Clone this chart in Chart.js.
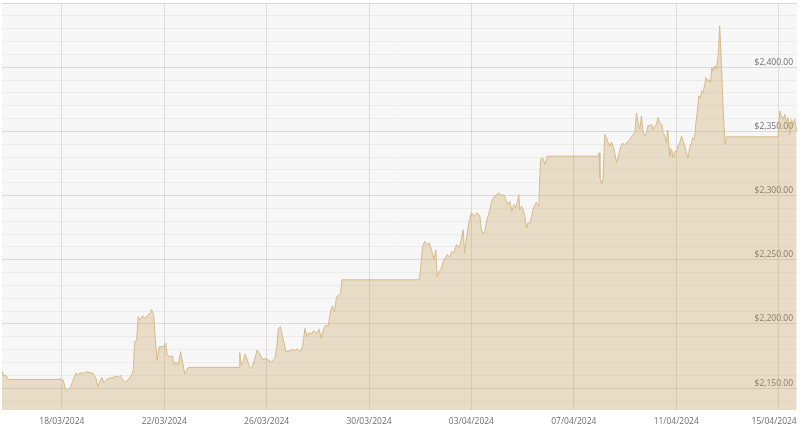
<!DOCTYPE html>
<html>
<head>
<meta charset="utf-8">
<script src="https://cdn.jsdelivr.net/npm/chart.js@4.4.1/dist/chart.umd.min.js"></script>
<style>
  html, body { margin: 0; padding: 0; background: #fff; }
  #wrap { width: 800px; height: 428px; }
</style>
</head>
<body>
<div id="wrap"><canvas id="goldChart"></canvas></div>
<script>
// days since 18/03/2024 00:00
const dayOffsets = [
  -2.34, -2.27, -2.20, -2.10, -2.05, -0.11, -0.08, -0.02, 0.05, 0.16,
  0.25, 0.34, 0.44, 0.55, 0.60, 0.70, 0.83, 0.99, 1.12, 1.22,
  1.33, 1.41, 1.48, 1.56, 1.64, 1.75, 1.88, 2.00, 2.11, 2.21,
  2.29, 2.37, 2.47, 2.58, 2.66, 2.72, 2.79, 2.84, 2.92, 2.98,
  3.05, 3.15, 3.25, 3.36, 3.44, 3.50, 3.59, 3.64, 3.72, 3.80,
  3.96, 4.06, 4.11, 4.22, 4.32, 4.38, 4.45, 4.54, 4.64, 4.71,
  4.80, 4.93, 6.93, 6.95, 7.00, 7.08, 7.16, 7.24, 7.32, 7.41,
  7.50, 7.63, 7.73, 7.84, 7.97, 8.07, 8.19, 8.32, 8.39, 8.46,
  8.54, 8.62, 8.70, 8.75, 8.91, 9.01, 9.10, 9.19, 9.30, 9.40,
  9.50, 9.58, 9.66, 9.75, 9.84, 9.95, 10.05, 10.13, 10.21, 10.31,
  10.40, 10.50, 10.57, 10.65, 10.73, 10.79, 10.89, 10.94, 13.96, 14.01,
  14.09, 14.18, 14.25, 14.35, 14.44, 14.53, 14.61, 14.66, 14.74, 14.83,
  14.90, 14.97, 15.05, 15.16, 15.23, 15.31, 15.42, 15.50, 15.57, 15.68,
  15.73, 15.81, 15.91, 16.00, 16.09, 16.20, 16.26, 16.33, 16.39, 16.46,
  16.52, 16.61, 16.72, 16.79, 16.88, 16.98, 17.08, 17.18, 17.27, 17.34,
  17.43, 17.50, 17.58, 17.66, 17.73, 17.79, 17.85, 17.89, 17.96, 18.02,
  18.09, 18.15, 18.21, 18.28, 18.35, 18.41, 18.48, 18.54, 18.61, 18.64,
  18.70, 18.78, 18.87, 18.96, 20.95, 20.99, 21.02, 21.09, 21.14, 21.21,
  21.28, 21.34, 21.41, 21.47, 21.54, 21.60, 21.67, 21.73, 21.80, 21.88,
  21.99, 22.08, 22.19, 22.29, 22.38, 22.45, 22.51, 22.58, 22.64, 22.71,
  22.77, 22.84, 22.90, 22.97, 23.03, 23.10, 23.16, 23.23, 23.29, 23.36,
  23.44, 23.49, 23.55, 23.62, 23.67, 23.72, 23.75, 23.82, 23.88, 23.95,
  24.01, 24.07, 24.14, 24.21, 24.27, 24.34, 24.40, 24.46, 24.53, 24.60,
  24.64, 24.69, 24.73, 24.77, 24.82, 24.89, 24.95, 25.00, 25.05, 25.12,
  25.16, 25.21, 25.26, 25.34, 25.39, 25.44, 25.51, 25.57, 25.64, 25.70,
  25.77, 25.83, 25.89, 25.91, 25.96, 27.98, 28.05, 28.11, 28.18, 28.24,
  28.31, 28.37, 28.44, 28.50, 28.57, 28.63, 28.70
];

const goldPrice = [
  2163.3, 2159.4, 2160.2, 2157.0, 2156.8, 2156.8, 2157.8, 2156.6, 2156.3, 2147.7,
  2149.0, 2151.0, 2156.3, 2162.0, 2159.9, 2162.0, 2161.5, 2162.7, 2162.0, 2161.5,
  2157.8, 2151.0, 2155.5, 2158.4, 2154.1, 2156.8, 2157.8, 2158.4, 2159.4, 2158.4,
  2159.9, 2156.3, 2154.7, 2156.3, 2158.4, 2160.2, 2164.1, 2186.2, 2187.5, 2205.7,
  2203.1, 2206.3, 2204.5, 2207.0, 2207.8, 2211.5, 2207.0, 2190.1, 2171.9, 2182.3,
  2182.3, 2184.9, 2175.8, 2174.5, 2175.0, 2168.0, 2170.5, 2168.0, 2178.4, 2170.5,
  2160.9, 2166.2, 2166.2, 2177.6, 2168.0, 2170.5, 2176.6, 2171.9, 2167.2, 2165.4,
  2170.5, 2179.7, 2176.6, 2172.4, 2173.2, 2171.9, 2170.5, 2173.2, 2181.0, 2196.6,
  2197.9, 2190.1, 2183.6, 2178.4, 2179.1, 2180.2, 2179.1, 2180.7, 2178.4, 2182.3,
  2196.6, 2190.1, 2193.2, 2192.2, 2194.8, 2192.7, 2195.9, 2188.8, 2195.3, 2199.2,
  2197.9, 2210.2, 2214.1, 2209.4, 2221.1, 2221.9, 2224.2, 2234.4, 2234.4, 2242.2,
  2260.4, 2264.3, 2261.7, 2263.0, 2257.8, 2250.0, 2257.8, 2237.0, 2240.9, 2243.5,
  2248.7, 2251.3, 2253.9, 2252.1, 2256.5, 2255.2, 2261.7, 2259.1, 2263.0, 2273.4,
  2255.2, 2267.0, 2279.9, 2287.0, 2283.6, 2286.5, 2285.9, 2283.8, 2273.4, 2270.3,
  2272.1, 2281.3, 2289.1, 2295.5, 2299.0, 2300.8, 2302.1, 2300.0, 2300.8, 2296.9,
  2293.0, 2295.5, 2287.7, 2293.0, 2290.4, 2294.8, 2300.8, 2289.1, 2291.6, 2289.1,
  2283.8, 2274.8, 2278.7, 2278.1, 2283.8, 2289.1, 2293.0, 2294.8, 2291.6, 2296.9,
  2328.1, 2329.5, 2324.2, 2330.7, 2330.7, 2333.3, 2313.8, 2309.4, 2312.5, 2347.7,
  2345.1, 2341.2, 2338.5, 2341.6, 2338.5, 2333.3, 2325.5, 2329.4, 2335.9, 2340.6,
  2339.8, 2341.2, 2343.8, 2346.9, 2349.0, 2364.1, 2356.8, 2351.6, 2362.0, 2349.0,
  2346.3, 2349.0, 2354.7, 2354.1, 2355.5, 2351.6, 2354.1, 2355.5, 2360.7, 2356.8,
  2355.5, 2349.0, 2346.9, 2341.2, 2351.0, 2337.3, 2330.7, 2335.9, 2329.4, 2334.6,
  2333.8, 2338.5, 2341.2, 2346.3, 2342.4, 2338.5, 2333.3, 2329.4, 2337.3, 2341.2,
  2345.1, 2343.8, 2347.7, 2356.8, 2364.6, 2377.6, 2376.3, 2381.5, 2380.2, 2386.7,
  2392.0, 2389.3, 2390.6, 2388.0, 2399.8, 2397.1, 2401.0, 2398.4, 2408.8, 2432.3,
  2401.0, 2369.8, 2346.3, 2339.8, 2345.8, 2345.8, 2365.9, 2362.0, 2359.4, 2363.3,
  2356.8, 2360.7, 2347.7, 2359.4, 2355.5, 2359.4, 2350.2
];

const tickDays = [0, 4, 8, 12, 16, 20, 24, 28];
const tickLabels = ['18/03/2024', '22/03/2024', '26/03/2024', '30/03/2024',
                    '03/04/2024', '07/04/2024', '11/04/2024', '15/04/2024'];

const dayMin = -2.34;
const dayMax = 28.72;
const priceMin = 2133;
const priceMax = 2450;

const points = dayOffsets.map((d, i) => ({ x: d, y: goldPrice[i] }));

const plotBackground = {
  id: 'plotBackground',
  beforeDraw(chart) {
    const { ctx, chartArea: a } = chart;
    ctx.save();
    ctx.fillStyle = '#f7f7f7';
    ctx.fillRect(a.left, a.top, a.right - a.left, a.bottom - a.top);
    ctx.restore();
  }
};

const money = v => '$' + v.toLocaleString('en-US', { minimumFractionDigits: 2, maximumFractionDigits: 2 });

// the last date label is nudged left so it stays on the canvas
const dateLabel = v => {
  const i = tickDays.indexOf(v);
  if (i < 0) return '';
  return i === tickDays.length - 1 ? tickLabels[i] + '    ' : tickLabels[i];
};

new Chart(document.getElementById('goldChart'), {
  type: 'line',
  data: {
    datasets: [{
      data: points,
      borderColor: '#d5bb8b',
      borderWidth: 1,
      backgroundColor: 'rgba(200,160,90,0.31)',
      fill: 'start',
      pointRadius: 0,
      tension: 0
    }]
  },
  options: {
    responsive: true,
    maintainAspectRatio: false,
    animation: false,
    layout: { padding: { left: 2, top: 3, right: 3, bottom: 0 } },
    plugins: {
      legend: { display: false },
      tooltip: { enabled: false }
    },
    scales: {
      x: {
        type: 'linear',
        min: dayMin,
        max: dayMax,
        afterBuildTicks: scale => { scale.ticks = tickDays.map(v => ({ value: v })); },
        afterFit: scale => {
          scale.height = 18;
          scale.paddingLeft = 0;
          scale.paddingRight = 0;
        },
        border: { display: false },
        grid: { color: 'rgba(0,0,0,0.1)', drawTicks: false },
        ticks: {
          padding: 6,
          maxRotation: 0,
          autoSkip: false,
          color: '#6e6e6e',
          font: { family: 'Open Sans', size: 8.5 },
          callback: dateLabel
        }
      },
      y: {
        position: 'right',
        min: priceMin,
        max: priceMax,
        z: 1,
        afterFit: scale => {
          scale.width = 0;
          scale.paddingTop = 0;
          scale.paddingBottom = 0;
        },
        border: { display: false },
        grid: {
          drawTicks: false,
          color: c => (c.tick && c.tick.value % 50 === 0) ? 'rgba(0,0,0,0.12)' : 'rgba(0,0,0,0.045)'
        },
        ticks: {
          stepSize: 10,
          includeBounds: false,
          mirror: true,
          padding: -4,
          labelOffset: -5,
          autoSkip: false,
          color: '#6e6e6e',
          font: { family: 'Open Sans', size: 8.5 },
          callback: v => (v % 50 === 0 && v < priceMax) ? money(v) : ''
        }
      }
    }
  },
  plugins: [plotBackground]
});
</script>
</body>
</html>
